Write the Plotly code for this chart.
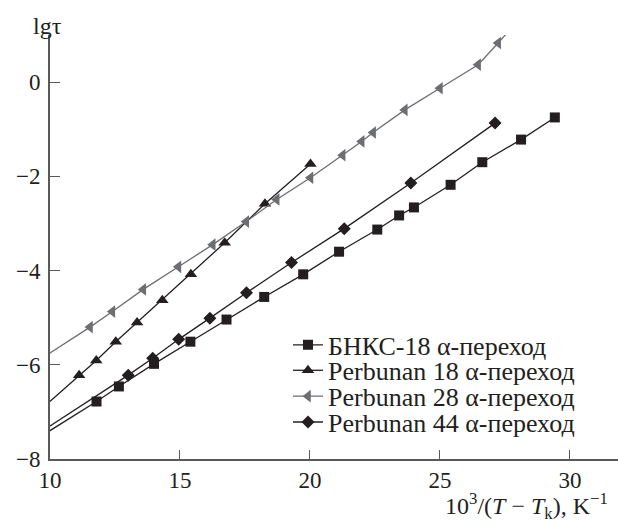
import plotly.graph_objects as go

# Relaxation time vs reciprocal reduced temperature, alpha-transition
bnks18_x = [9.5, 11.79, 12.65, 14.00, 15.40, 16.79, 18.24, 19.74, 21.12, 22.59,
            23.43, 24.00, 25.41, 26.63, 28.12, 29.42]
bnks18_y = [-7.57, -6.78, -6.46, -5.98, -5.51, -5.04, -4.56, -4.08, -3.60, -3.13,
            -2.83, -2.66, -2.18, -1.70, -1.22, -0.75]

perb18_x = [9.5, 11.12, 11.78, 12.53, 13.35, 14.32, 15.42, 16.72, 18.27, 20.02]
perb18_y = [-7.02, -6.22, -5.91, -5.51, -5.10, -4.63, -4.08, -3.41, -2.58, -1.74]

perb28_x = [9.5, 11.54, 12.40, 13.59, 14.94, 16.26, 17.55, 18.72, 20.02, 21.26,
            21.99, 22.43, 23.65, 25.00, 26.47, 27.24, 27.80]
perb28_y = [-5.93, -5.20, -4.87, -4.40, -3.92, -3.45, -2.96, -2.49, -2.03, -1.55,
            -1.26, -1.07, -0.59, -0.13, 0.37, 0.83, 1.18]

perb44_x = [9.5, 13.01, 13.95, 14.95, 16.15, 17.56, 19.29, 21.32, 23.88, 27.12]
perb44_y = [-7.48, -6.22, -5.86, -5.46, -5.01, -4.47, -3.83, -3.11, -2.14, -0.87]

x_ticks = [10, 15, 20, 25, 30]
y_ticks = [-8, -6, -4, -2, 0]

BLACK = "#231f20"
GRAY = "#6d6e71"
AXIS = "#58595b"
FONT = "'Liberation Serif', 'Times New Roman', serif"

series = [
    ("БНКС-18 α-переход", bnks18_x, bnks18_y, "square", 10, BLACK),
    ("Perbunan 18 α-переход", perb18_x, perb18_y, "triangle-up", 11, BLACK),
    ("Perbunan 28 α-переход", perb28_x, perb28_y, "triangle-left", 11, GRAY),
    ("Perbunan 44 α-переход", perb44_x, perb44_y, "diamond", 10, BLACK),
]

# one legend per series so the entries can sit on tight rows
legend_ids = ["legend", "legend2", "legend3", "legend4"]
legend_rows = [0.269, 0.209, 0.148, 0.087]

fig = go.Figure()
for (name, xs, ys, sym, size, col), lid in zip(series, legend_ids):
    fig.add_trace(go.Scatter(
        x=xs, y=ys, name=name, mode="lines+markers", legend=lid,
        line=dict(color=col, width=1.3),
        marker=dict(symbol=sym, size=size, color=col, line=dict(width=0)),
        cliponaxis=True,
    ))

legend_style = {
    lid: dict(x=0.419, y=row, xanchor="left", yanchor="middle",
              bgcolor="rgba(0,0,0,0)",
              font=dict(family=FONT, size=26, color=BLACK))
    for lid, row in zip(legend_ids, legend_rows)
}

fig.update_layout(
    width=618, height=520,
    margin=dict(l=50, r=0, t=35, b=61),
    paper_bgcolor="white", plot_bgcolor="white",
    font=dict(family=FONT, size=23, color=BLACK),
    showlegend=True,
    xaxis=dict(
        range=[10, 31.85], tickvals=x_ticks, ticks="inside", ticklen=9,
        tickwidth=1.4, tickcolor=AXIS, showline=True, linecolor=AXIS,
        linewidth=1.6, showgrid=False, zeroline=False,
        tickfont=dict(family=FONT, size=23, color=BLACK),
    ),
    yaxis=dict(
        range=[-8, 1.0], tickvals=y_ticks, ticks="inside", ticklen=10,
        tickwidth=1.4, tickcolor=AXIS, showline=True, linecolor=AXIS,
        linewidth=1.6, showgrid=False, zeroline=False, ticklabelstandoff=3,
        tickfont=dict(family=FONT, size=23, color=BLACK),
    ),
    annotations=[
        dict(text="lgτ", xref="paper", yref="paper", x=0, y=1,
             xanchor="center", yanchor="bottom", xshift=-3, yshift=-6,
             showarrow=False, font=dict(family=FONT, size=24, color=BLACK)),
        dict(text="10<sup>3</sup>/(<i>T</i> − <i>T</i><sub>k</sub>), K<sup>−1</sup>",
             xref="paper", yref="paper", x=1, y=0,
             xanchor="right", yanchor="middle", xshift=-8, yshift=-47,
             showarrow=False, font=dict(family=FONT, size=24, color=BLACK)),
    ],
    **legend_style,
)

fig.write_html("out.html")
